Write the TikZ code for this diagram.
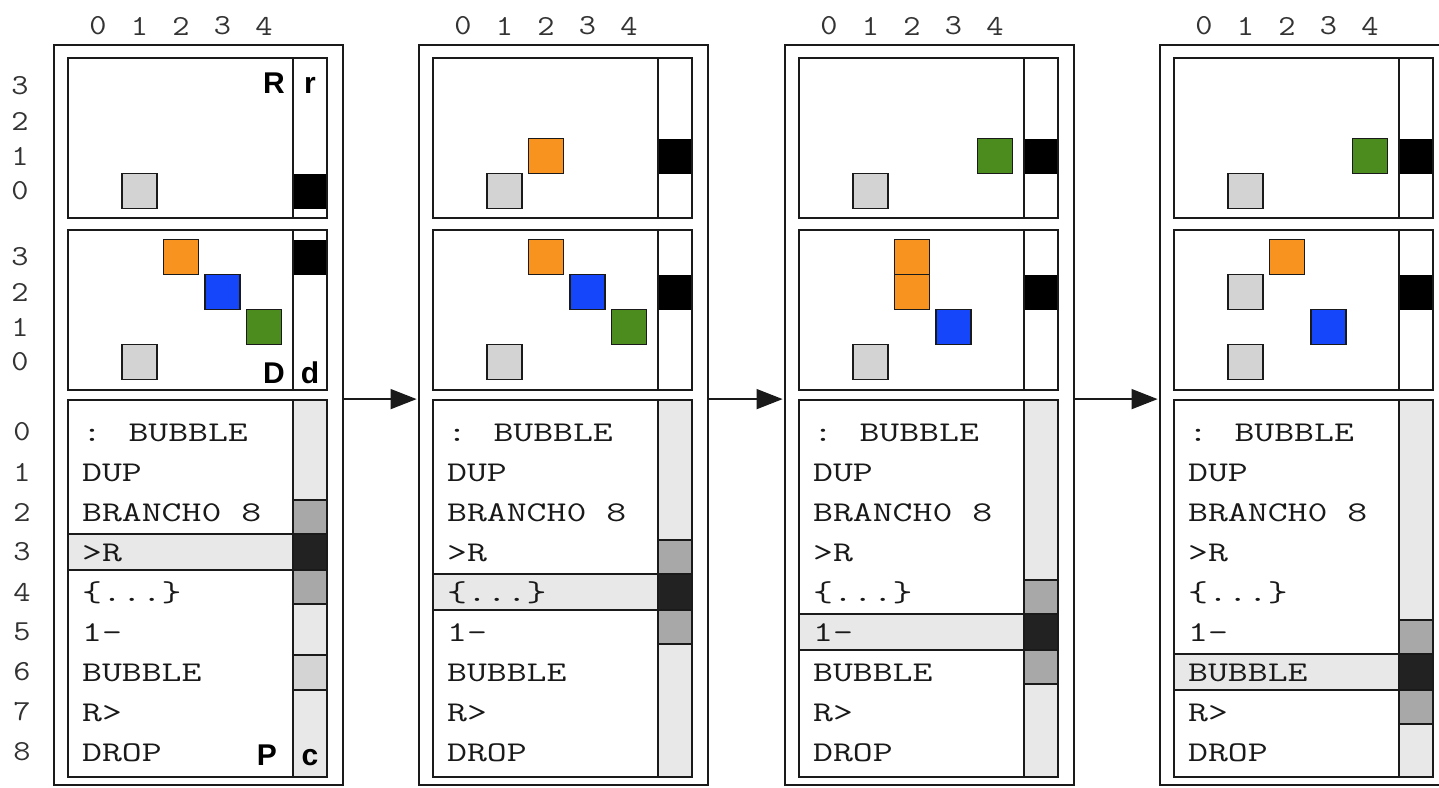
\documentclass[tikz,border=0pt]{standalone}
\usepackage{fontspec}
\usepackage{graphicx}
\setmainfont{Liberation Sans}
\usetikzlibrary{arrows.meta}

\definecolor{sqgray}{HTML}{D3D3D3}
\definecolor{sqorange}{HTML}{F7931E}
\definecolor{sqblue}{RGB}{22,70,250}
\definecolor{sqgreen}{RGB}{76,139,30}
\definecolor{colbg}{HTML}{E8E8E8}
\definecolor{cmid}{HTML}{A8A8A8}
\definecolor{clight}{HTML}{D4D4D4}
\definecolor{cdark}{HTML}{222222}
\definecolor{ink}{HTML}{1A1A1A}

% wide typewriter lettering for program lines and indices
\newcommand\progline[1]{\scalebox{1.35}[1]{#1}}
\newcommand\idx[1]{\scalebox{1.15}[1]{#1}}

\tikzset{
  boxline/.style={draw=ink, line width=1.8pt},
  outerbox/.style={boxline, rectangle, inner sep=0pt, minimum width=289pt, minimum height=740pt},
  areabox/.style={boxline, rectangle, inner sep=0pt, minimum width=259pt},
  sq/.style={draw=ink, line width=1.6pt},
  cell/.style={draw=ink, line width=1.4pt},
  bar/.style={draw=ink, line width=1.6pt, fill=colbg},
  progtxt/.style={anchor=base west, inner sep=0pt, text=black!90, font=\ttfamily\fontsize{28.6}{34}\selectfont},
  numlbl/.style={inner sep=0pt, text=black!80, font=\ttfamily\fontsize{29}{34}\selectfont},
  tag/.style={inner sep=0pt, font=\bfseries\fontsize{30}{36}\selectfont},
  flow/.style={draw=ink, line width=1.5pt, -{Triangle[length=26pt,width=20pt]}, shorten >=1.5pt},
}

% coloured squares in the R area and the D area: column, row, colour
\newcommand\sqR[3]{\filldraw[sq, fill=#3] ({30+41.5*#1-17.5},{191-35*#2-17.5}) rectangle ++(35,35);}
\newcommand\sqD[3]{\filldraw[sq, fill=#3] ({30+41.5*#1-17.5},{362-35*#2-17.5}) rectangle ++(35,35);}
% pointer marks in the r and d columns
\newcommand\markR[1]{\fill[black] (225,{191-35*#1-17.5}) rectangle (259,{191-35*#1+17.5});}
\newcommand\markD[1]{\fill[black] (225,{362-35*#1-17.5}) rectangle (259,{362-35*#1+17.5});}
% current program line and its neighbours in the c column
\newcommand\progstate[1]{%
  \filldraw[bar] (0,{432+40*#1-18}) rectangle (225,{432+40*#1+18});
  \filldraw[cell, fill=cmid] (225,{432+40*#1-52}) rectangle (259,{432+40*#1-18});
  \filldraw[cell, fill=cdark] (225,{432+40*#1-18}) rectangle (259,{432+40*#1+18});
  \filldraw[cell, fill=cmid] (225,{432+40*#1+18}) rectangle (259,{432+40*#1+52});
}

% frame of one machine state; #1 = name prefix, #2 = drawing of the contents
\newcommand\machine[2]{%
  \node[outerbox] (#1out) at (130.5,415) {};
  \fill[colbg] (225,400) rectangle (259,777);
  #2
  \foreach \c in {0,...,4} {
    \node[numlbl] (#1col\c) at ({30+41.5*\c},26) {\idx{\c}};
  }
  \foreach \k/\t in {0/{: BUBBLE},1/{DUP},2/{BRANCH0 8},3/{>R},4/{\{...\}},5/{1-},6/{BUBBLE},7/{R>},8/{DROP}} {
    \node[progtxt] (#1line\k) at (14,{441+40*\k}) {\progline{\t}};
  }
  \node[areabox, minimum height=160pt] (#1R) at (129.5,138) {};
  \node[areabox, minimum height=160pt] (#1D) at (129.5,310) {};
  \node[areabox, minimum height=377pt] (#1P) at (129.5,588.5) {};
  \draw[boxline] (225,58) -- (225,218);
  \draw[boxline] (225,230) -- (225,390);
  \draw[boxline] (225,400) -- (225,777);
}

\begin{document}
\begin{tikzpicture}[x=1pt, y=-1pt]
\useasboundingbox (0,0) rectangle (1439,787);

% row numbers of the stacks and of the program
\foreach \r in {0,...,3} {
  \node[numlbl] (rrow\r) at (20,{191-35*\r}) {\idx{\r}};
  \node[numlbl] (drow\r) at (20,{362-35*\r}) {\idx{\r}};
}
\foreach \k in {0,...,8} {
  \node[numlbl] (prow\k) at (22,{432+40*\k}) {\idx{\k}};
}

% state 1
\begin{scope}[shift={(68,0)}]
  \machine{s1}{%
    \sqR{1}{0}{sqgray}
    \markR{0}
    \sqD{2}{3}{sqorange}\sqD{3}{2}{sqblue}\sqD{4}{1}{sqgreen}\sqD{1}{0}{sqgray}
    \markD{3}
    \progstate{3}
    \filldraw[cell, fill=clight] (225,655) rectangle (259,690);
  }
  \node[tag, anchor=base east] (lblR) at (217,93) {R};
  \node[tag, anchor=base] (lblr) at (242,93) {r};
  \node[tag, anchor=base east] (lblD) at (217,383) {D};
  \node[tag, anchor=base] (lbld) at (242,383) {d};
  \node[tag, anchor=base east] (lblP) at (209,765) {P};
  \node[tag, anchor=base] (lblc) at (242,765) {c};
\end{scope}

% state 2
\begin{scope}[shift={(433,0)}]
  \machine{s2}{%
    \sqR{1}{0}{sqgray}\sqR{2}{1}{sqorange}
    \markR{1}
    \sqD{2}{3}{sqorange}\sqD{3}{2}{sqblue}\sqD{4}{1}{sqgreen}\sqD{1}{0}{sqgray}
    \markD{2}
    \progstate{4}
  }
\end{scope}

% state 3
\begin{scope}[shift={(799,0)}]
  \machine{s3}{%
    \sqR{1}{0}{sqgray}\sqR{4}{1}{sqgreen}
    \markR{1}
    \sqD{2}{3}{sqorange}\sqD{2}{2}{sqorange}\sqD{3}{1}{sqblue}\sqD{1}{0}{sqgray}
    \markD{2}
    \progstate{5}
  }
\end{scope}

% state 4
\begin{scope}[shift={(1174,0)}]
  \machine{s4}{%
    \sqR{1}{0}{sqgray}\sqR{4}{1}{sqgreen}
    \markR{1}
    \sqD{2}{3}{sqorange}\sqD{1}{2}{sqgray}\sqD{3}{1}{sqblue}\sqD{1}{0}{sqgray}
    \markD{2}
    \progstate{6}
  }
\end{scope}

% transitions between states
\draw[flow] (s1out.east |- s1P.north) -- (s2out.west |- s2P.north);
\draw[flow] (s2out.east |- s2P.north) -- (s3out.west |- s3P.north);
\draw[flow] (s3out.east |- s3P.north) -- (s4out.west |- s4P.north);
\end{tikzpicture}
\end{document}
